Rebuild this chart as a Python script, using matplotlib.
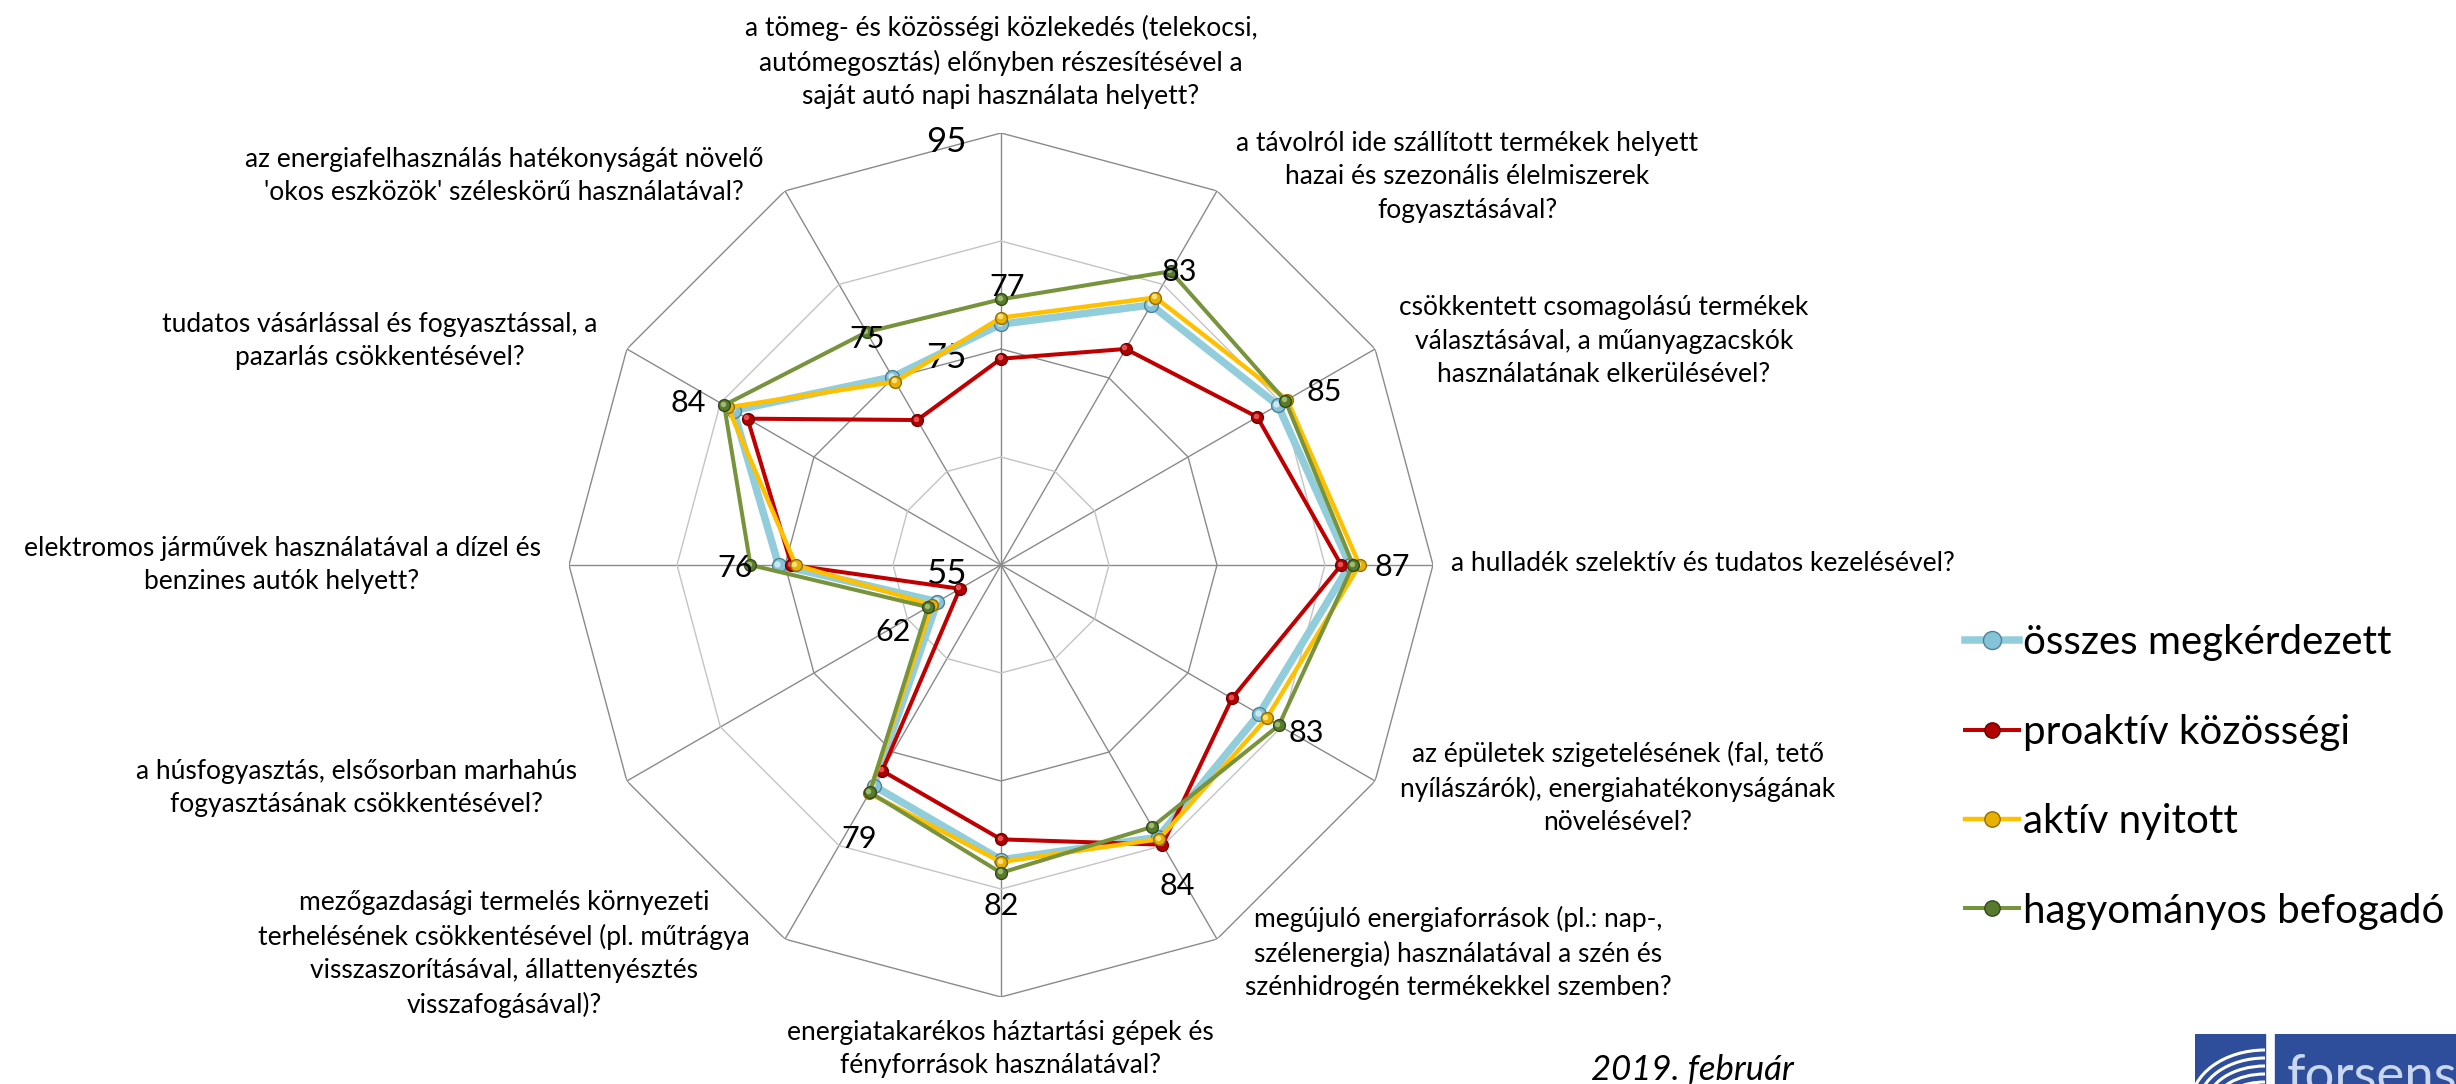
import numpy as np
import matplotlib
matplotlib.use('Agg')
import matplotlib.pyplot as plt
from matplotlib import font_manager, transforms
from matplotlib.lines import Line2D
from matplotlib.patches import Rectangle, Arc

# pick fonts that are actually installed
names = {f.name for f in font_manager.fontManager.ttflist}
FONT = 'Lato' if 'Lato' in names else 'DejaVu Sans'

# ---- data ----
categories = [
    "a tömeg- és közösségi közlekedés (telekocsi,\nautómegosztás) előnyben részesítésével a\nsaját autó napi használata helyett?",
    "a távolról ide szállított termékek helyett\nhazai és szezonális élelmiszerek\nfogyasztásával?",
    "csökkentett csomagolású termékek\nválasztásával, a műanyagzacskók\nhasználatának elkerülésével?",
    "a hulladék szelektív és tudatos kezelésével?",
    "az épületek szigetelésének (fal, tető\nnyílászárók), energiahatékonyságának\nnövelésével?",
    "megújuló energiaforrások (pl.: nap-,\nszélenergia) használatával a szén és\nszénhidrogén termékekkel szemben?",
    "energiatakarékos háztartási gépek és\nfényforrások használatával?",
    "mezőgazdasági termelés környezeti\nterhelésének csökkentésével (pl. műtrágya\nvisszaszorításával, állattenyésztés\nvisszafogásával)?",
    "a húsfogyasztás, elsősorban marhahús\nfogyasztásának csökkentésével?",
    "elektromos járművek használatával a dízel és\nbenzines autók helyett?",
    "tudatos vásárlással és fogyasztással, a\npazarlás csökkentésével?",
    "az energiafelhasználás hatékonyságát növelő\n'okos eszközök' széleskörű használatával?",
]
osszes = [77.3, 82.8, 84.6, 87.3, 82.6, 84.1, 82.3, 78.6, 61.8, 75.6, 83.6, 75.1]
proaktiv = [74.1, 78.1, 82.4, 86.5, 79.7, 84.9, 80.4, 77.0, 59.4, 74.4, 82.1, 70.5]
aktiv = [77.9, 83.6, 85.6, 88.2, 83.4, 84.3, 82.5, 79.4, 62.4, 74.0, 84.2, 74.6]
hagyomanyos = [79.6, 86.4, 85.4, 87.6, 84.7, 83.0, 83.5, 79.3, 62.8, 78.2, 84.6, 79.9]
series_names = ['összes megkérdezett', 'proaktív közösségi', 'aktív nyitott', 'hagyományos befogadó']
r_ticks = [55, 75, 95]
r_grid = [65, 75, 85, 95]

# ---- layout (pixels of the 2456x1084 canvas) ----
W, H = 2456, 1084
CX, CY, R = 1001, 565, 432
label_pos = [(1001, 62), (1467, 177), (1604, 341), (1451, 564), (1618, 788), (1458, 953),
             (1000, 1049), (504, 954), (356, 788), (282, 565), (380, 341), (504, 176)]
label_ha = ['center'] * 12
label_ha[3] = 'left'
value_offsets = [(6, -37), (28, -33), (46, -13), (42, 2), (47, 19), (19, 49),
                 (0, 46), (-14, 53), (-44, 30), (-43, 3), (-45, -8), (-25, -38)]

styles = [
    dict(color='#92CDDC', lw=5.4, ms=10, mfc='#86C3D8', mec='#4E8296', hl='#D8F0F8'),
    dict(color='#C00000', lw=2.9, ms=8.5, mfc='#B00000', mec='#6E0000', hl='#F06060'),
    dict(color='#FFC000', lw=3.2, ms=8.5, mfc='#E8B000', mec='#8E6C00', hl='#FFE890'),
    dict(color='#77933C', lw=2.9, ms=8.5, mfc='#587A2C', mec='#34491A', hl='#A8C878'),
]

fig = plt.figure(figsize=(W / 100, H / 100), dpi=100)
ax = fig.add_axes([(CX - R) / W, (H - CY - R) / H, 2 * R / W, 2 * R / H], projection='polar')
ax.set_theta_zero_location('N')
ax.set_theta_direction(-1)
ax.set_ylim(55, 95)
ax.grid(False)
ax.set_xticks([])
ax.set_yticks([])
ax.spines['polar'].set_visible(False)
ax.patch.set_alpha(0)

theta = np.linspace(0, 2 * np.pi, len(categories), endpoint=False)
closed = np.append(theta, theta[0])

# spokes and polygon grid
for t in theta:
    ax.plot([t, t], [55, 95], color='#8A8A8A', lw=1.0, zorder=1)
for g in r_grid:
    col = '#8A8A8A' if g in r_ticks else '#C4C4C4'
    ax.plot(closed, [g] * len(closed), color=col, lw=1.0, zorder=1)

for v in r_ticks:
    ax.annotate(str(v), xy=(0, v), xytext=(-55, -9), textcoords='offset pixels',
                ha='center', va='center', fontsize=25, family=FONT)

# series
shine = transforms.offset_copy(ax.transData, fig=fig, x=-1.5, y=1.5, units='dots')
handles = []
for i, (vals, st) in enumerate(zip([osszes, proaktiv, aktiv, hagyomanyos], styles)):
    v = np.append(vals, vals[0])
    ax.plot(closed, v, color=st['color'], lw=st['lw'], zorder=3 + i, clip_on=False,
            solid_joinstyle='miter')
    ax.plot(theta, vals, 'o', ms=st['ms'], mfc=st['mfc'], mec=st['mec'], mew=1.0,
            zorder=3.5 + i, clip_on=False)
    ax.plot(theta, vals, 'o', ms=st['ms'] * 0.35, color=st['hl'], alpha=0.8,
            zorder=3.6 + i, clip_on=False, transform=shine)
    handles.append(Line2D([0], [0], color=st['color'], lw=st['lw'], marker='o',
                          ms=st['ms'] * 1.3, mfc=st['mfc'], mec=st['mec']))

# value labels of the "összes megkérdezett" series
for t, v, (dx, dy) in zip(theta, osszes, value_offsets):
    ax.annotate(f"{v:.0f}", xy=(t, v), xytext=(dx, -dy), textcoords='offset pixels',
                ha='center', va='center', fontsize=22, family=FONT, zorder=10)

# category labels
for text, (x, y), ha in zip(categories, label_pos, label_ha):
    fig.text(x / W, 1 - y / H, text, ha=ha, va='center', multialignment='center',
             fontsize=19, family=FONT, linespacing=1.42)

fig.legend(handles, series_names, loc='center left',
           bbox_to_anchor=(1965 / W, 1 - 777 / H), frameon=False,
           prop={'family': FONT, 'size': 29}, handlelength=1.35, handletextpad=0.1,
           labelspacing=1.3, borderpad=0, borderaxespad=0)

fig.text(1591 / W, 4 / H, '2019. február', style='italic', fontsize=25, family=FONT,
         ha='left', va='baseline')

# forsens logo block
lg = fig.add_axes([2195 / W, 0, (W - 2195) / W, 50 / H])
lg.set_xlim(0, W - 2195)
lg.set_ylim(0, 50)
lg.axis('off')
left_block = Rectangle((0, 0), 70, 50, color='#2E4D9B')
lg.add_patch(left_block)
lg.add_patch(Rectangle((80, 0), W - 2195 - 80, 50, color='#2E4D9B'))
for rad in [22, 30, 38, 46, 54]:
    a = Arc((70, -20), 2 * rad + 40, 2 * rad, theta1=90, theta2=180, color='white', lw=2.2)
    lg.add_patch(a)
    a.set_clip_path(left_block)
lg.text(92, -8, 'forsens', color='#C9D8F0', fontsize=38, family=FONT, ha='left',
        va='baseline', clip_on=True)

fig.savefig('out.png', dpi=100)
